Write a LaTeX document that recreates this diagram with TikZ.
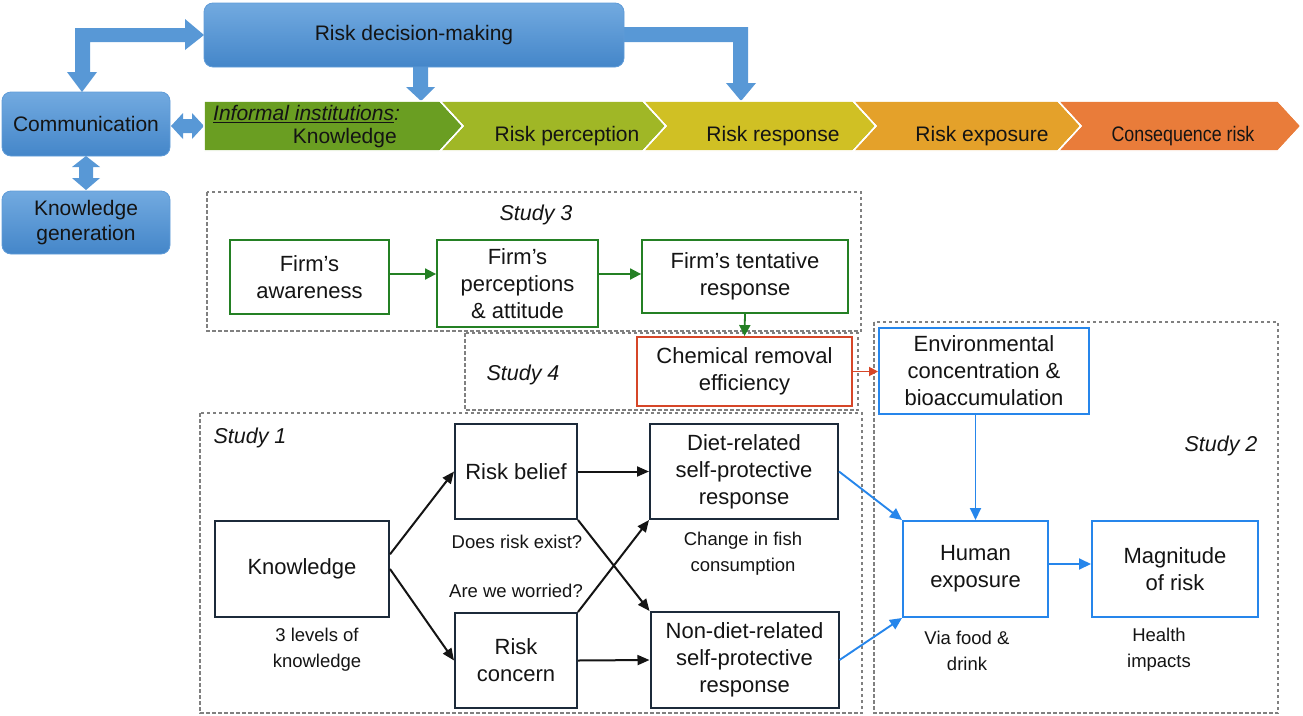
\documentclass[tikz,border=0pt]{standalone}
\usepackage{fontspec}
\setmainfont{Liberation Sans}
\usetikzlibrary{arrows.meta,calc}

\definecolor{boxtop}{RGB}{114,170,224}
\definecolor{boxbot}{RGB}{68,134,201}
\definecolor{boxedge}{RGB}{96,156,216}
\definecolor{blockfill}{RGB}{88,152,214}
\definecolor{chevA}{RGB}{106,158,34}
\definecolor{chevB}{RGB}{160,183,38}
\definecolor{chevC}{RGB}{208,192,36}
\definecolor{chevD}{RGB}{228,161,42}
\definecolor{chevE}{RGB}{233,124,58}
\definecolor{grn}{RGB}{36,128,36}
\definecolor{redline}{RGB}{214,70,40}
\definecolor{bluline}{RGB}{38,134,235}
\definecolor{navy}{RGB}{28,42,58}
\definecolor{dashgray}{RGB}{128,128,128}
\definecolor{ink}{RGB}{20,20,20}

\begin{document}
\begin{tikzpicture}[x=1pt,y=-1pt,
  topbox/.style={rounded corners=9pt, top color=boxtop, bottom color=boxbot,
    draw=boxedge, line width=0.8pt, text=ink, align=center, inner sep=0pt,
    font=\fontsize{21}{25}\selectfont},
  block/.style={fill=blockfill},
  chev/.style={draw=white, line width=1.3pt},
  chevtext/.style={text=ink, inner sep=0pt, font=\fontsize{21}{25}\selectfont},
  greenbox/.style={draw=grn, line width=1.8pt, fill=white, text=ink, align=center,
    inner sep=0pt, font=\fontsize{22}{27}\selectfont},
  redbox/.style={draw=redline, line width=1.8pt, fill=white, text=ink, align=center,
    inner sep=0pt, font=\fontsize{22}{27}\selectfont},
  bluebox/.style={draw=bluline, line width=2pt, fill=white, text=ink, align=center,
    inner sep=0pt, font=\fontsize{22}{27}\selectfont},
  navybox/.style={draw=navy, line width=2pt, fill=white, text=ink, align=center,
    inner sep=0pt, font=\fontsize{22}{27}\selectfont},
  studyframe/.style={draw=dashgray, line width=1.2pt, dash pattern=on 3.5pt off 2.5pt},
  studylabel/.style={text=ink, inner sep=0pt, font=\fontsize{21.5}{26}\selectfont\itshape},
  note/.style={text=ink, align=center, inner sep=0pt, font=\fontsize{18.5}{26}\selectfont},
  grnarrow/.style={draw=grn, line width=1.8pt, -{Triangle[length=11pt,width=11pt]}},
  redarrow/.style={draw=redline, line width=1.8pt, -{Triangle[length=9pt,width=9pt]}},
  bluarrow/.style={draw=bluline, line width=1.9pt, -{Triangle[length=12pt,width=11pt]}},
  navyarrow/.style={draw=ink, line width=2pt, -{Triangle[length=12pt,width=10pt]}}
]
\useasboundingbox (0,0) rectangle (1303,715);

% ---------- block arrows behind the blue boxes ----------
\fill[block] (75,72) -- (67,72) -- (82,92) -- (97,72) -- (90,72) -- (90,42)
  -- (185,42) -- (185,50) -- (204,35) -- (185,19) -- (185,28) -- (75,28) -- cycle;
\fill[block] (413,60) -- (428,60) -- (428,87) -- (435,87) -- (421,101)
  -- (406,87) -- (413,87) -- cycle;
\fill[block] (615,27) -- (748,27) -- (748,83) -- (756,83) -- (741,101)
  -- (726,83) -- (733,83) -- (733,42) -- (615,42) -- cycle;
\fill[block] (171,126) -- (183,113) -- (183,119) -- (192,119) -- (192,113)
  -- (204,126) -- (192,139) -- (192,133) -- (183,133) -- (183,139) -- cycle;
\fill[block] (86,156) -- (100,167) -- (93,167) -- (93,178) -- (100,178)
  -- (86,190) -- (72,178) -- (79,178) -- (79,167) -- (72,167) -- cycle;

% ---------- blue process boxes ----------
\node[topbox, minimum width=420pt, minimum height=64pt] (dm) at (414,35) {\raisebox{-2pt}{Risk decision-making}};
\node[topbox, minimum width=168pt, minimum height=64pt] (comm) at (86,124) {Communication};
\node[topbox, minimum width=168pt, minimum height=63pt] (kgen) at (86,222.5) {Knowledge\\generation};

% ---------- chevron band ----------
\fill[chev, fill=chevA] (204,101) -- (440,101) -- (463,126) -- (440,151) -- (204,151) -- cycle;
\fill[chev, fill=chevB] (440,101) -- (643,101) -- (666,126) -- (643,151) -- (440,151) -- (463,126) -- cycle;
\fill[chev, fill=chevC] (643,101) -- (853,101) -- (876,126) -- (853,151) -- (643,151) -- (666,126) -- cycle;
\fill[chev, fill=chevD] (853,101) -- (1058,101) -- (1081,126) -- (1058,151) -- (853,151) -- (876,126) -- cycle;
\fill[chev, fill=chevE] (1058,101) -- (1278,101) -- (1301,126) -- (1278,151) -- (1058,151) -- (1081,126) -- cycle;
\draw[chev] (204,101) -- (440,101) -- (463,126) -- (440,151) -- (204,151) -- cycle;
\draw[chev] (440,101) -- (643,101) -- (666,126) -- (643,151) -- (440,151) -- (463,126) -- cycle;
\draw[chev] (643,101) -- (853,101) -- (876,126) -- (853,151) -- (643,151) -- (666,126) -- cycle;
\draw[chev] (853,101) -- (1058,101) -- (1081,126) -- (1058,151) -- (853,151) -- (876,126) -- cycle;
\draw[chev] (1058,101) -- (1278,101) -- (1301,126) -- (1278,151) -- (1058,151) -- (1081,126) -- cycle;

\node[chevtext, anchor=west] (inst) at (213,114) {\underline{\textit{Informal institutions}}\textit{:}};
\node[chevtext, anchor=east] (know) at (397,138) {Knowledge};
\node[chevtext] (perc) at (567,136) {Risk perception};
\node[chevtext] (resp) at (773,136) {Risk response};
\node[chevtext] (expo) at (982,136) {Risk exposure};
\node[chevtext] (cons) at (1183,136) {\scalebox{0.85}[1]{Consequence risk}};

% ---------- study frames ----------
\draw[studyframe] (207,192) rectangle (861,331);
\draw[studyframe] (465,333) rectangle (858,410);
\draw[studyframe] (200,413) rectangle (862,713);
\draw[studyframe] (874,322) rectangle (1278,713);

\node[studylabel] (s3) at (536,215) {Study 3};
\node[studylabel] (s4) at (523,375) {Study 4};
\node[studylabel] (s1) at (250,438) {Study 1};
\node[studylabel] (s2) at (1221,446) {Study 2};

% ---------- Study 3: firm ----------
\node[greenbox, minimum width=159pt, minimum height=74pt] (aw) at (309.5,277) {Firm’s\\awareness};
\node[greenbox, minimum width=161pt, minimum height=87pt] (pa) at (517.5,283.5) {Firm’s\\perceptions\\\& attitude};
\node[greenbox, minimum width=206pt, minimum height=73pt] (tr) at (745,276.5) {Firm’s tentative\\response};
\draw[grnarrow] ($(aw.east)+(0,-3)$) -- ($(aw.east -| pa.west)+(0,-3)$);
\draw[grnarrow] ($(pa.east |- aw.east)+(0,-3)$) -- ($(aw.east -| tr.west)+(0,-3)$);

% ---------- Study 4: removal ----------
\node[redbox, minimum width=215pt, minimum height=69pt] (chem) at (744.5,371.5) {Chemical removal\\efficiency};
\draw[grnarrow] (tr.south) -- (chem.north);

% ---------- Study 2: exposure ----------
\node[bluebox, minimum width=210pt, minimum height=86pt] (env) at (984,371) {Environmental\\concentration \&\\bioaccumulation};
\node[bluebox, minimum width=145pt, minimum height=96pt] (hum) at (975.5,569) {Human\\exposure};
\node[bluebox, minimum width=166pt, minimum height=96pt] (mag) at (1175,569) {Magnitude\\of risk};
\draw[redarrow] (chem.east) -- (chem.east -| env.west);
\draw[bluarrow] (hum.north |- env.south) -- (hum.north);
\draw[bluarrow] ($(hum.east)+(0,-5)$) -- ($(hum.east -| mag.west)+(0,-5)$);
\node[note] (food) at (967,651) {Via food \&\\drink};
\node[note] (hlth) at (1159,650) {Health\\impacts};

% ---------- Study 1: consumers ----------
\node[navybox, minimum width=174pt, minimum height=96pt] (kn) at (302,569) {Knowledge};
\node[navybox, minimum width=122pt, minimum height=95pt] (rb) at (516,471.5) {Risk belief};
\node[navybox, minimum width=122pt, minimum height=95pt] (rc) at (516,660.5) {Risk\\concern};
\node[navybox, minimum width=188pt, minimum height=95pt] (diet) at (744,471.5) {Diet-related\\self-protective\\response};
\node[navybox, minimum width=188pt, minimum height=96pt] (nd) at (744.5,660) {Non-diet-related\\self-protective\\response};

\draw[navyarrow] ($(kn.east)!0.3!(kn.north east)$) -- (rb.west);
\draw[navyarrow] (kn.east) -- (rc.west);
\draw[navyarrow] (rb.east) -- (diet.west);
\draw[navyarrow] (rc.east) -- (nd.west);
\draw[navyarrow] (rb.south east) -- (nd.north west);
\draw[navyarrow] (rc.north east) -- (diet.south west);
\draw[bluarrow] (diet.east) -- (hum.north west);
\draw[bluarrow] (nd.east) -- (hum.south west);

\node[note] (lvl) at (317,650) {3 levels of\\knowledge};
\node[note] (q1) at (517,542) {Does risk exist?};
\node[note] (q2) at (516,591) {Are we worried?};
\node[note] (fish) at (743,554) {Change in fish\\consumption};
\end{tikzpicture}
\end{document}
